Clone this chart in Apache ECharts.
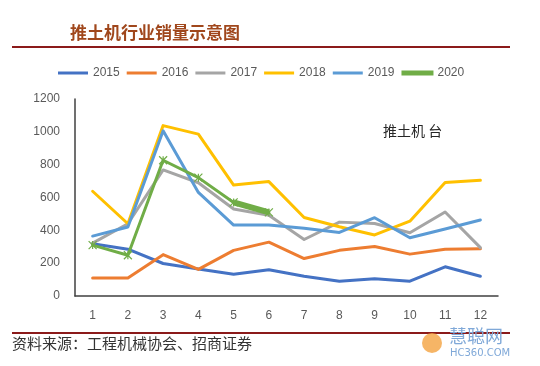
<!DOCTYPE html>
<html>
<head>
<meta charset="utf-8">
<script src="https://cdn.jsdelivr.net/npm/echarts@6/dist/echarts.min.js"></script>
<style>
html,body{margin:0;padding:0;background:#fff;}
#c{width:540px;height:366px;}
</style>
</head>
<body>
<div id="c"></div>
<script>
var months = ['1','2','3','4','5','6','7','8','9','10','11','12'];
var s2015 = [318, 285, 198, 165, 132, 160, 120, 90, 105, 90, 178, 120];
var s2016 = [110, 110, 252, 162, 278, 328, 228, 278, 302, 255, 285, 288];
var s2017 = [322, 440, 768, 690, 530, 492, 344, 450, 442, 385, 512, 295];
var s2018 = [638, 440, 1038, 986, 676, 697, 478, 422, 372, 456, 692, 705];
var s2019 = [365, 420, 1006, 631, 432, 432, 412, 387, 477, 355, 408, 463];
var s2020 = [310, 248, 827, 721, 570, 509];
var yTicks = [0, 200, 400, 600, 800, 1000, 1200];

var colors = {'2015':'#4472C4','2016':'#ED7D31','2017':'#A5A5A5','2018':'#FFC000','2019':'#5B9BD5','2020':'#70AD47'};
function mk(name, data){
  return {name:name, type:'line', data:data, symbol:'none', smooth:false,
    lineStyle:{width:3, color:colors[name], cap:'round', join:'round'},
    itemStyle:{color:colors[name]}, z:2};
}
var thick2020 = s2020.map(function(v,i){ return (i>=4) ? v : null; });
var chart = echarts.init(document.getElementById('c'));
chart.setOption({
  animation:false,
  backgroundColor:'#fff',
  textStyle:{fontFamily:'"Liberation Sans","Noto Sans CJK SC",sans-serif'},
  legend:{
    top:62, left:53, itemGap:7, itemWidth:30, itemHeight:3,
    textStyle:{color:'#595959', fontSize:12, fontFamily:'"Liberation Sans",sans-serif'},
    data:[
      {name:'2015', icon:'rect'},{name:'2016', icon:'rect'},{name:'2017', icon:'rect'},
      {name:'2018', icon:'rect'},{name:'2019', icon:'rect'},{name:'2020', icon:'rect'}
    ]
  },
  grid:{left:75, right:42, top:99, bottom:70},
  xAxis:{type:'category', data:months, boundaryGap:true,
    axisLine:{lineStyle:{color:'#404040', width:1.5}},
    axisTick:{inside:true, length:4, lineStyle:{color:'#404040'}},
    axisLabel:{color:'#595959', fontSize:12, margin:14}},
  yAxis:{type:'value', min:0, max:1200, interval:200,
    axisLine:{show:true, lineStyle:{color:'#404040', width:1.5}},
    axisTick:{show:false},
    splitLine:{show:false},
    axisLabel:{color:'#595959', fontSize:12, margin:15,
      formatter:function(v){ return yTicks.indexOf(v)>=0 ? String(v) : ''; }}},
  series:[
    mk('2015', s2015), mk('2016', s2016), mk('2017', s2017), mk('2018', s2018), mk('2019', s2019),
    Object.assign(mk('2020', s2020), {symbol:'path://M0,0L10,10M10,0L0,10M5,0L5,10', symbolSize:8,
      itemStyle:{color:'#70AD47', borderColor:'#70AD47', borderWidth:1.2}, z:3}),
    {name:'2020', type:'line', data:thick2020, symbol:'none', connectNulls:false,
      lineStyle:{width:6, color:'#70AD47'}, z:3}
  ],
  graphic:[
    {type:'text', left:70, top:24, style:{text:'推土机行业销量示意图', fill:'#A0471C',
      font:'bold 17px "Noto Sans CJK SC"'}},
    {type:'rect', shape:{x:12, y:46, width:498, height:2}, style:{fill:'#8B1A1A'}},
    {type:'text', left:383, top:124, style:{text:'推土机 台', fill:'#262626',
      font:'14px "Noto Sans CJK SC"'}},
    {type:'rect', shape:{x:12, y:332, width:498, height:2}, style:{fill:'#8B1A1A'}},
    {type:'text', left:12, top:336, style:{text:'资料来源：工程机械协会、招商证券', fill:'#333333',
      font:'15px "Noto Sans CJK SC"'}},
    {type:'circle', shape:{cx:432, cy:343, r:10}, style:{fill:'#F4A340', opacity:0.8}},
    {type:'text', left:449, top:327, style:{text:'慧聪网', fill:'#7FA8D8', font:'18px "Noto Sans CJK SC"'}},
    {type:'text', left:450, top:348, style:{text:'HC360.COM', fill:'#7FA8D8', font:'10px "DejaVu Sans"'}}
  ]
});
</script>
</body>
</html>
